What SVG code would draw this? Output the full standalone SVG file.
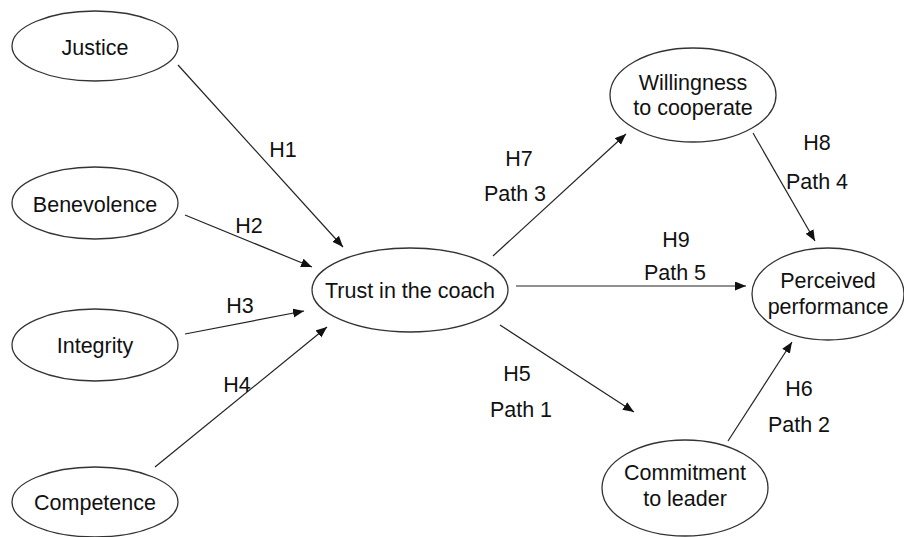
<svg xmlns="http://www.w3.org/2000/svg" width="904" height="537" viewBox="0 0 904 537">
<style>
.n{fill:#fff;stroke:#333;stroke-width:1.3}
text{font-family:"Liberation Sans",Arial,sans-serif;font-size:21.5px;fill:#111;text-anchor:middle}
.c line{stroke:#222;stroke-width:1.2}
</style>
<defs>
<marker id="a" markerUnits="userSpaceOnUse" markerWidth="12" markerHeight="10" refX="11" refY="4.5" orient="auto">
<path d="M0,0 L11,4.5 L0,9 Z" fill="#111"/>
</marker>
</defs>
<rect width="904" height="537" fill="#fff"/>
<g id="justice"><ellipse class="n" cx="95" cy="46" rx="83" ry="35"/><text x="95" y="55">Justice</text></g>
<g id="benevolence"><ellipse class="n" cx="95" cy="203" rx="83" ry="36"/><text x="95" y="212">Benevolence</text></g>
<g id="integrity"><ellipse class="n" cx="95" cy="345" rx="83" ry="36"/><text x="95" y="353">Integrity</text></g>
<g id="competence"><ellipse class="n" cx="95" cy="502" rx="83" ry="35"/><text x="95" y="510">Competence</text></g>
<g id="trust"><ellipse class="n" cx="410" cy="290" rx="98" ry="42"/><text x="410" y="298">Trust in the coach</text></g>
<g id="willingness"><ellipse class="n" cx="693" cy="95" rx="83" ry="47"/><text x="693" y="90">Willingness</text><text x="693" y="115">to cooperate</text></g>
<g id="perceived"><ellipse class="n" cx="828" cy="294" rx="76" ry="46"/><text x="828" y="288">Perceived</text><text x="828" y="314">performance</text></g>
<g id="commitment"><ellipse class="n" cx="685" cy="488" rx="83" ry="48"/><text x="685" y="480">Commitment</text><text x="685" y="506">to leader</text></g>
<g class="c" id="connectors">
<line x1="178" y1="65" x2="343" y2="247" marker-end="url(#a)"/>
<line x1="185" y1="215" x2="312" y2="267" marker-end="url(#a)"/>
<line x1="185" y1="334" x2="304" y2="311" marker-end="url(#a)"/>
<line x1="155" y1="467" x2="327" y2="327" marker-end="url(#a)"/>
<line x1="493" y1="256" x2="626" y2="134" marker-end="url(#a)"/>
<line x1="516" y1="286" x2="746" y2="286" marker-end="url(#a)"/>
<line x1="500" y1="325" x2="634" y2="412" marker-end="url(#a)"/>
<line x1="753" y1="133" x2="815" y2="241" marker-end="url(#a)"/>
<line x1="728" y1="441" x2="792" y2="342" marker-end="url(#a)"/>
<text x="283" y="157">H1</text>
<text x="249" y="233">H2</text>
<text x="240" y="313">H3</text>
<text x="237" y="392">H4</text>
<text x="519" y="166">H7</text>
<text x="515" y="201">Path 3</text>
<text x="517" y="381">H5</text>
<text x="521" y="417">Path 1</text>
<text x="817" y="150">H8</text>
<text x="817" y="189">Path 4</text>
<text x="676" y="247">H9</text>
<text x="675" y="280">Path 5</text>
<text x="799" y="396">H6</text>
<text x="799" y="432">Path 2</text>
</g>
</svg>
